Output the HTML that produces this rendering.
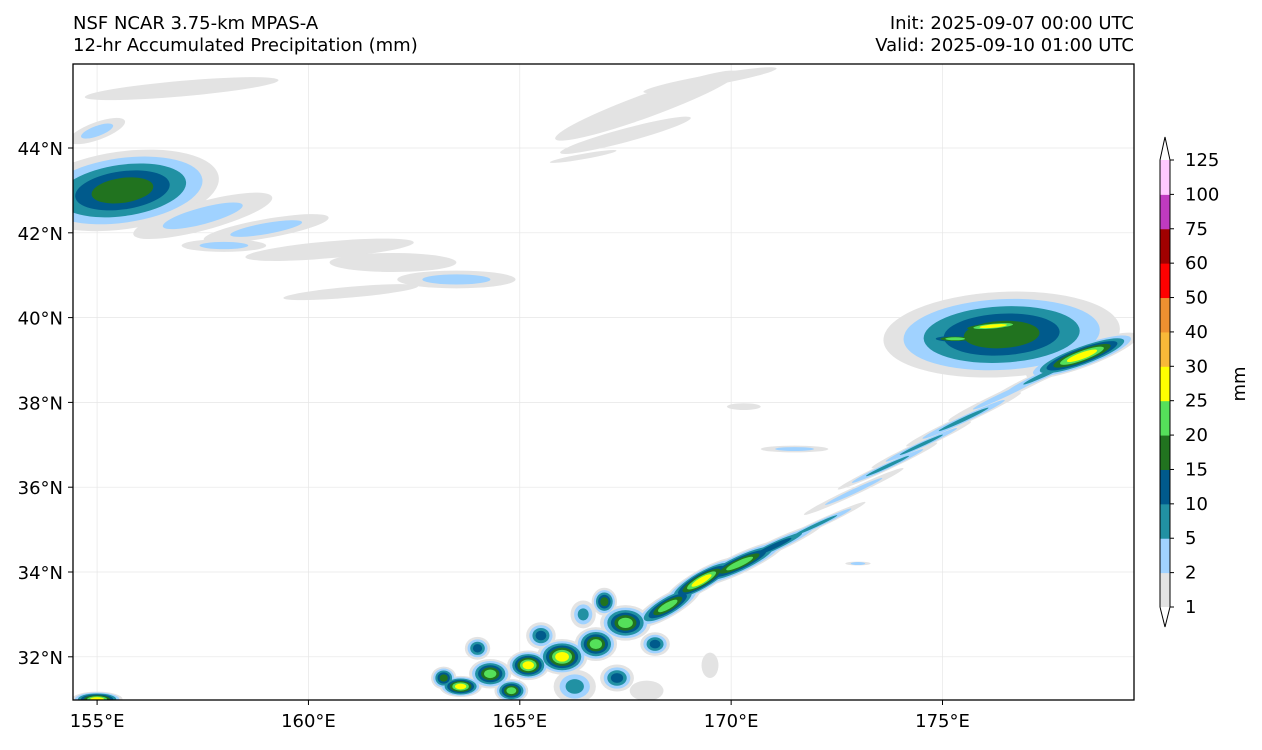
<!DOCTYPE html>
<html><head><meta charset="utf-8">
<style>
body{margin:0;background:#fff;width:1262px;height:745px;overflow:hidden;font-family:"Liberation Sans","DejaVu Sans",sans-serif;}
svg text{font-family:"DejaVu Sans","Liberation Sans",sans-serif;font-size:18px;fill:#000;}
</style></head><body>
<svg id="chart" width="1262" height="745" xmlns="http://www.w3.org/2000/svg">
<text x="73" y="29">NSF NCAR 3.75-km MPAS-A</text>
<text x="73" y="51">12-hr Accumulated Precipitation (mm)</text>
<text x="1134" y="29" text-anchor="end">Init: 2025-09-07 00:00 UTC</text>
<text x="1134" y="51" text-anchor="end">Valid: 2025-09-10 01:00 UTC</text>
<defs><clipPath id="mapclip"><rect x="73" y="64" width="1061" height="636"/></clipPath></defs>
<g id="grid"></g>
<g id="precip" clip-path="url(#mapclip)"></g>
<rect x="73" y="64" width="1061" height="636" fill="none" stroke="#000" stroke-width="1.3"/>
<g id="axes"></g>
<g id="cbar"></g>
<text x="1245" y="384" text-anchor="middle" transform="rotate(-90 1245 384)">mm</text>
</svg>
<script>
const lonTicks=[155,160,165,170,175];
const latTicks=[32,34,36,38,40,42,44];
const levels=[1,2,5,10,15,20,25,30,40,50,60,75,100,125];
const colors=["#e3e3e3","#a0d2ff","#2191a3","#005a8c","#21731f","#55e05a","#ffff00","#f8b838","#ee9030","#ff0000","#a00000","#c03ac0","#ffc8ff"];
// cells: lon, lat, size(deg), aspect, rotation, max level index
const cellLon=[155.6,157.5,159,160.5,162,163.5,158,155,157,161,168,167.5,169.5,166.5,171.5,170.3,176.4,178.3,177.5,176.5,175.5,174.5,173.7,172.9,172,171,170.2,169.3,168.5,167.5,166.8,166,165.2,164.3,163.6,164.8,166.3,167.3,168.2,168,155,169.5,173,165.5,166.5,167,164,163.2,176.2,175.3];
const cellLat=[43.0,42.4,42.1,41.6,41.3,40.9,41.7,44.4,45.4,40.6,45.0,44.3,45.6,43.8,36.9,37.9,39.6,39.1,38.7,38.2,37.6,37.0,36.5,35.9,35.1,34.6,34.2,33.8,33.2,32.8,32.3,32.0,31.8,31.6,31.3,31.2,31.3,31.5,32.3,31.2,31.0,31.8,34.2,32.5,33.0,33.3,32.2,31.5,39.8,39.5];
const cellSize=[2.3,1.7,1.5,2,1.5,1.4,1,0.7,2.3,1.6,2.3,1.6,1.6,0.8,0.8,0.4,2.8,1.4,1.5,1.5,1.5,1.3,1.3,1.3,1.3,1.3,1.2,1,0.9,0.6,0.5,0.6,0.5,0.5,0.5,0.4,0.5,0.4,0.35,0.4,0.6,0.2,0.3,0.35,0.3,0.3,0.3,0.3,1.2,0.8];
const cellAspect=[0.4,0.2,0.15,0.1,0.15,0.15,0.15,0.3,0.08,0.08,0.12,0.1,0.08,0.08,0.1,0.2,0.36,0.2,0.08,0.07,0.07,0.07,0.07,0.07,0.07,0.12,0.2,0.25,0.3,0.7,0.8,0.7,0.7,0.7,0.5,0.7,0.8,0.8,0.8,0.6,0.3,1.5,0.15,0.9,1.1,1.1,0.9,0.9,0.12,0.15];
const cellRot=[-8,-15,-10,-5,0,0,0,-20,-5,-5,-20,-15,-10,-10,0,0,-3,-20,-25,-25,-25,-25,-25,-25,-25,-25,-25,-30,-30,0,0,0,0,0,0,0,0,0,0,0,0,0,0,0,0,0,0,0,-5,0];
const cellMax=[4,1,1,0,0,1,1,1,0,0,0,0,0,0,1,0,4,6,2,1,2,2,2,1,2,3,5,6,5,5,5,6,6,5,6,5,2,3,3,0,6,0,1,3,2,4,3,4,6,5];

const NS="http://www.w3.org/2000/svg";
const X0=73,X1=1134,Y0=64,Y1=700;
const xS=lon=>73+(lon-154.43)*42.27;
const yS=lat=>148+(44-lat)*42.4;
function mk(tag,attrs,parent){const e=document.createElementNS(NS,tag);for(const k in attrs)e.setAttribute(k,attrs[k]);parent.appendChild(e);return e;}
const gridG=document.getElementById('grid'),axesG=document.getElementById('axes'),prG=document.getElementById('precip'),cbG=document.getElementById('cbar');
lonTicks.forEach(l=>{const x=xS(l);
 const g=mk('line',{x1:x,x2:x,y1:Y0,y2:Y1,stroke:'#e6e6e6','stroke-width':0.7},gridG);
 
 
 mk('line',{x1:x,x2:x,y1:Y1,y2:Y1+5,stroke:'#000'},axesG);
 const t=mk('text',{x:x,y:727,'text-anchor':'middle'},axesG);t.textContent=l+'°E';
 
 
});
latTicks.forEach(l=>{const y=yS(l);
 const g=mk('line',{x1:X0,x2:X1,y1:y,y2:y,stroke:'#e6e6e6','stroke-width':0.7},gridG);
 
 
 mk('line',{x1:X0-5,x2:X0,y1:y,y2:y,stroke:'#000'},axesG);
 const t=mk('text',{x:63,y:y+7,'text-anchor':'end'},axesG);t.textContent=l+'°N';
 
 
});
for(let lv=0;lv<colors.length;lv++){
 for(let i=0;i<cellLon.length;i++){
  if(cellMax[i]<lv)continue;
  const sc=1-lv/(cellMax[i]+1)*0.85;
  const rx=cellSize[i]*42.27*sc, ry=rx*cellAspect[i];
  const cx=xS(cellLon[i]),cy=yS(cellLat[i]);
  const e=mk('ellipse',{cx:cx,cy:cy,rx:rx,ry:Math.max(ry,1.5),fill:colors[lv],transform:`rotate(${cellRot[i]} ${cx} ${cy})`},prG);
  
  
 }
}
// colorbar
const cbX=1160,cbW=10,cbTop=160,cbBot=607;
const step=(cbBot-cbTop)/(levels.length-1);
const yL=i=>cbBot-i*step;
for(let i=0;i<colors.length;i++){
 const r=mk('rect',{x:cbX,y:yL(i+1),width:cbW,height:step+0.5,fill:colors[i]},cbG);
 
 
}
const arrowTop=mk('path',{d:`M${cbX} ${cbTop} L${cbX+cbW/2} 137 L${cbX+cbW} ${cbTop} Z`,fill:'#fff'},cbG);


const arrowBot=mk('path',{d:`M${cbX} ${cbBot} L${cbX+cbW/2} 627 L${cbX+cbW} ${cbBot} Z`,fill:'#fff'},cbG);


const outline=mk('path',{d:`M${cbX} ${cbTop} L${cbX+cbW/2} 137 L${cbX+cbW} ${cbTop} L${cbX+cbW} ${cbBot} L${cbX+cbW/2} 627 L${cbX} ${cbBot} Z`,fill:'none',stroke:'#000','stroke-width':1},cbG);


levels.forEach((v,i)=>{const y=yL(i);
 mk('line',{x1:cbX+cbW,x2:cbX+cbW+4,y1:y,y2:y,stroke:'#000'},cbG);
 const t=mk('text',{x:1185,y:y+6},cbG);t.textContent=v;
 
 
});
</script>
</body></html>
